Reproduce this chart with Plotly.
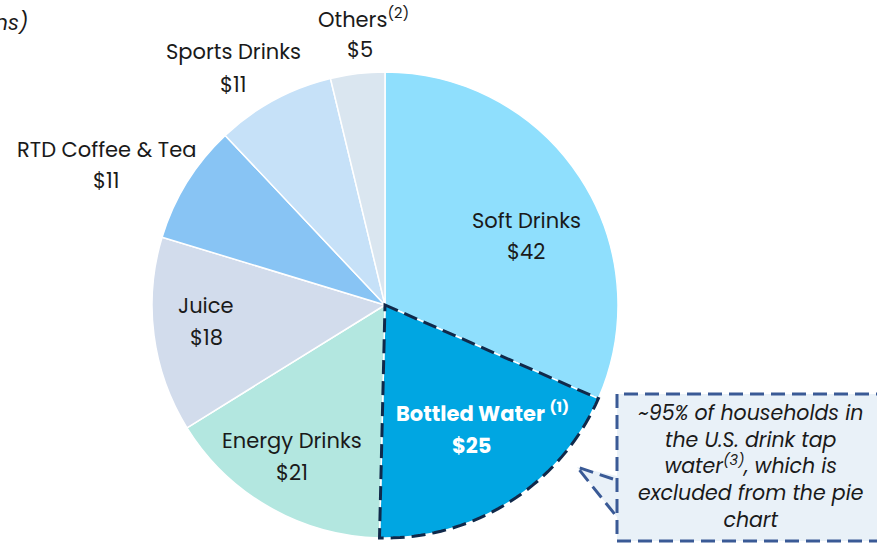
import math
import plotly.graph_objects as go

W, H = 877, 543

categories = ["Soft Drinks", "Bottled Water", "Energy Drinks", "Juice",
              "RTD Coffee & Tea", "Sports Drinks", "Others"]
values = [42, 25, 21, 18, 11, 11, 5]
label_names = ["Soft Drinks", "<b>Bottled Water <sup>(1)</sup></b>", "Energy Drinks", "Juice",
               "RTD Coffee & Tea", "Sports Drinks", "Others<sup>(2)</sup>"]
colors = ["#8FDFFD", "#00A6E2", "#B3E7E0", "#D2DCEC", "#88C4F4", "#C6E1F8", "#DAE6F0"]
title_text = "(US$ in billions)"
callout_text = ("<i>~95% of households in<br>the U.S. drink tap<br>water<sup>(3)</sup>, which is<br>"
                "excluded from the pie<br>chart</i>")

# pie geometry in pixels
CX, CY, R = 385, 305, 233

def px(x):
    return x / W

def py(y):
    return 1 - y / H

fig = go.Figure()
fig.add_trace(go.Pie(
    labels=categories, values=values, sort=False, direction="clockwise",
    rotation=0, textinfo="none", hoverinfo="label+value",
    marker=dict(colors=colors, line=dict(color="white", width=1.5)),
    domain=dict(x=[px(CX - R), px(CX + R)], y=[py(CY + R), py(CY - R)]),
    showlegend=False,
))

# dashed outline for Bottled Water slice, computed from values
total = sum(values)
start = sum(values[:1]) / total * 2 * math.pi
end = sum(values[:2]) / total * 2 * math.pi

def pt(a, r=R):
    return CX + r * math.sin(a), CY - r * math.cos(a)

segs = [f"M {px(CX)} {py(CY)}"]
n = 40
for i in range(n + 1):
    a = start + (end - start) * i / n
    x, y = pt(a)
    segs.append(f"L {px(x)} {py(y)}")
segs.append("Z")
fig.add_shape(type="path", path=" ".join(segs), xref="paper", yref="paper",
              line=dict(color="#10294A", width=3, dash="14px,7px"))

# callout box
BX0, BY0, BX1, BY1 = 617, 394, 890, 541
fig.add_shape(type="path",
              path=f"M {px(617)} {py(476)} L {px(577)} {py(467)} L {px(617)} {py(517)} Z",
              xref="paper", yref="paper", fillcolor="#E9F1F8", line=dict(width=0))
fig.add_shape(type="rect", x0=px(BX0), x1=px(BX1), y0=py(BY1), y1=py(BY0),
              xref="paper", yref="paper", fillcolor="#E9F1F8",
              line=dict(color="#3A5A96", width=3, dash="14px,7px"))
fig.add_shape(type="path",
              path=f"M {px(613)} {py(479)} L {px(577)} {py(467)} L {px(617)} {py(517)}",
              xref="paper", yref="paper",
              line=dict(color="#3A5A96", width=3, dash="14px,7px"))

FONT = "Poppins, Open Sans, sans-serif"
TXT = "#1A1A1A"
FS = 21

# label positions (pixels): name center, value center
label_pos = [(526, 220), (482, 413), (292, 440), (206, 305), (106, 149), (233, 52), (363, 18)]
for name, v, (lx, ly), i in zip(label_names, values, label_pos, range(len(values))):
    color = "white" if i == 1 else TXT
    val = f"<b>${v}</b>" if i == 1 else f"${v}"
    vx = lx - 11 if i == 1 else (lx - 3 if i == 6 else lx)
    fig.add_annotation(x=px(lx), y=py(ly), xref="paper", yref="paper", text=name,
                       showarrow=False, font=dict(family=FONT, size=FS, color=color),
                       xanchor="center", yanchor="middle")
    fig.add_annotation(x=px(vx), y=py(ly + 32), xref="paper", yref="paper", text=val,
                       showarrow=False, font=dict(family=FONT, size=FS, color=color),
                       xanchor="center", yanchor="middle")

fig.add_annotation(x=px(750), y=py(466), xref="paper", yref="paper", text=callout_text,
                   showarrow=False, align="center",
                   font=dict(family=FONT, size=20.5, color=TXT),
                   xanchor="center", yanchor="middle")

fig.add_annotation(x=px(30), y=py(22), xref="paper", yref="paper", text=f"<i>{title_text}</i>",
                   showarrow=False, font=dict(family=FONT, size=21, color=TXT),
                   xanchor="right", yanchor="middle")

fig.update_layout(width=W, height=H, margin=dict(l=0, r=0, t=0, b=0),
                  paper_bgcolor="white", plot_bgcolor="white")
fig.write_html("out.html", config={"displayModeBar": False},
               post_script="document.body.style.margin='0px';")
